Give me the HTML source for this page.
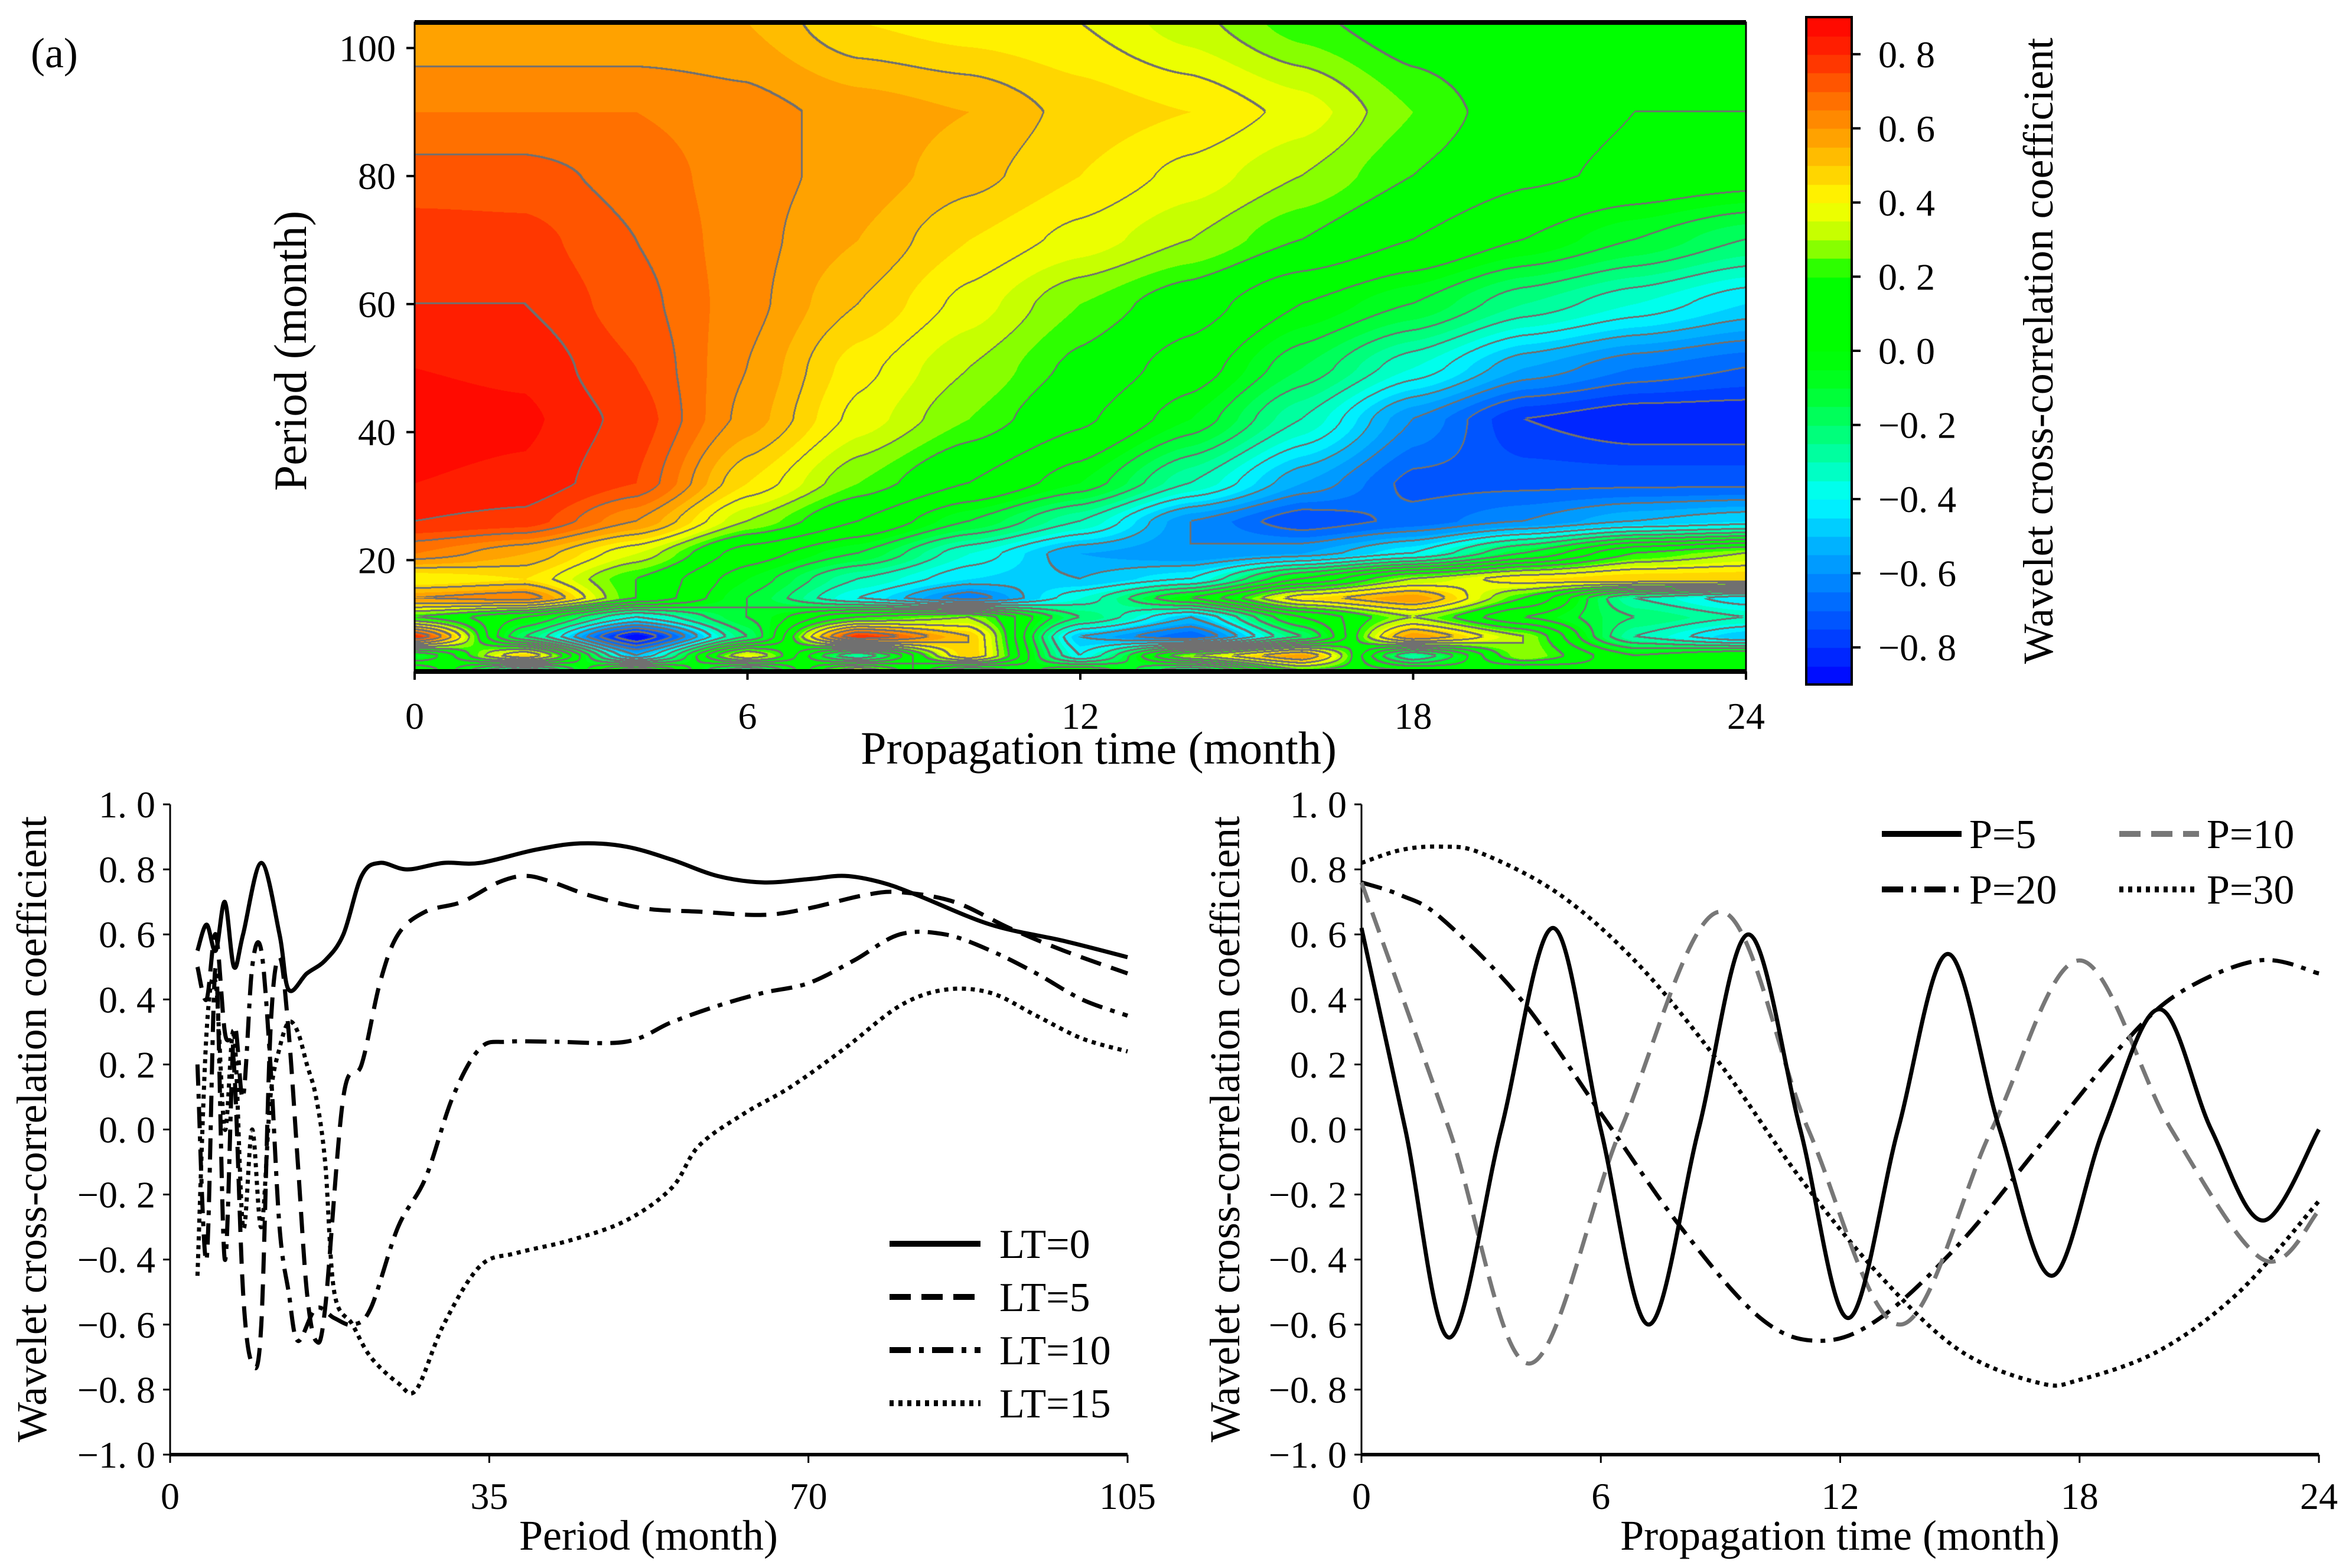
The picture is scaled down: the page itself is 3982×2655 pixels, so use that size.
<!DOCTYPE html>
<html><head><meta charset="utf-8"><style>
html,body{margin:0;padding:0;background:#fff;}
#root{position:relative;width:3982px;height:2655px;overflow:hidden;background:#fff;font-family:"Liberation Serif","Noto Serif CJK SC",serif;}
canvas{position:absolute;}
svg{position:absolute;left:0;top:0;}
</style></head><body>
<div id="root">
<canvas id="heat" width="2254" height="1099" style="left:702px;top:38px;"></canvas>
<canvas id="cbar" width="77" height="1130" style="left:3058px;top:29px;"></canvas>
<svg id="svg" width="3982" height="2655"></svg>
</div>
<script>
// ---------- contour data ----------
const times = [0,2,4,6,8,10,12,14,16,18,20,22,24];
const periods = [104,90,80,70,60,50,42,32,26,21,17,14,11,8,5,2.6];
const field = [
[.55,.55,.55,.55,.45,.42,.40,.32,.22,.15,.12,.10,.10],
[.65,.65,.65,.62,.58,.55,.48,.45,.38,.25,.15,.10,.10],
[.72,.72,.68,.62,.58,.52,.45,.38,.30,.20,.12,.08,.05],
[.78,.77,.70,.62,.55,.45,.38,.30,.20,.10,.00,-.10,-.20],
[.80,.80,.72,.62,.50,.38,.25,.15,.00,-.10,-.25,-.35,-.45],
[.85,.84,.75,.60,.42,.30,.18,.05,-.15,-.35,-.55,-.65,-.70],
[.87,.86,.78,.58,.38,.25,.12,-.05,-.30,-.60,-.80,-.85,-.85],
[.85,.84,.75,.45,.25,.10,-.05,-.30,-.55,-.72,-.72,-.72,-.72],
[.80,.78,.60,.30,.10,-.10,-.30,-.60,-.75,-.68,-.60,-.50,-.45],
[.65,.55,.35,.05,-.10,-.35,-.55,-.60,-.55,-.40,-.10,.20,.30],
[.40,.45,.20,-.05,-.30,-.45,-.50,-.40,.00,.30,.45,.50,.50],
[.60,.65,.20,-.10,-.40,-.65,-.35,.00,.45,.60,.20,-.30,-.45],
[.20,.00,-.40,-.10,.20,.30,-.20,-.50,.00,.30,.00,-.20,-.30],
[.80,-.20,-.90,-.20,.80,.50,-.50,-.70,-.20,.60,.30,-.30,-.50],
[-.10,.50,-.50,.40,-.30,.50,-.40,.30,.60,-.30,.30,.00,.10],
[.20,-.40,.30,-.30,.40,-.20,.10,-.30,.20,.10,.00,.10,.05]
];
const cbTicks = [0.8,0.6,0.4,0.2,0.0,-0.2,-0.4,-0.6,-0.8];
const xTicksTop = [0,6,12,18,24];
const yTicksTop = [20,40,60,80,100];

// ---------- line data (left) ----------
const ltNames = ["LT=0","LT=5","LT=10","LT=15"];
const lt0x=[3,4,5,6,7,8,10,12,13,15,17,19,21,23,26,30,34,40,45,50,55,60,65,70,74,78,82,90,98,105];
const lt0y=[0.55,0.63,0.55,0.7,0.5,0.6,0.82,0.6,0.43,0.48,0.52,0.6,0.78,0.82,0.8,0.82,0.82,0.86,0.88,0.87,0.83,0.78,0.76,0.77,0.78,0.76,0.72,0.63,0.58,0.53];
const lt5x=[3,4,5,6,7,8,9,10,11,12,13,14,15,16,17,19,21,23,25,28,32,36,39,42,46,52,58,65,70,76,80,86,92,98,105];
const lt5y=[0.5,0.4,0.6,0.3,0.2,-0.5,-0.72,-0.6,0.3,0.53,0.3,-0.1,-0.5,-0.65,-0.55,0.1,0.2,0.45,0.6,0.67,0.7,0.76,0.78,0.76,0.72,0.68,0.67,0.66,0.68,0.72,0.73,0.7,0.62,0.55,0.48];
const lt10x=[3,4,5,6,7,8,9,10,11,12,13,14,16,18,20,22,25,28,31,34,37,42,50,55,60,65,70,75,80,85,90,95,100,105];
const lt10y=[0.2,-0.4,0.5,-0.4,0.3,0.1,0.5,0.55,0.2,-0.3,-0.5,-0.65,-0.55,-0.58,-0.6,-0.55,-0.3,-0.15,0.1,0.25,0.27,0.27,0.27,0.33,0.38,0.42,0.45,0.52,0.6,0.6,0.55,0.48,0.4,0.35];
const lt15x=[3,4,5,6,7,8,9,10,11,12,13,14,15,16,17,18,20,22,25,27,30,34,38,44,50,55,58,63,68,74,80,85,90,95,100,105];
const lt15y=[-0.45,0.3,0.45,0.0,0.3,-0.3,0.0,-0.3,0.1,0.25,0.33,0.3,0.2,0.1,-0.1,-0.5,-0.6,-0.7,-0.78,-0.8,-0.6,-0.42,-0.38,-0.34,-0.28,-0.18,-0.05,0.05,0.13,0.25,0.38,0.43,0.42,0.35,0.28,0.24];
const xTicksL=[0,35,70,105];
const yTicksB=[-1.0,-0.8,-0.6,-0.4,-0.2,0.0,0.2,0.4,0.6,0.8,1.0];

// ---------- line data (right) ----------
const pNames=["P=5","P=10","P=20","P=30"];
const p5x=[0,1.1,2.2,3.5,4.8,6,7.2,8.45,9.7,11,12.2,13.45,14.7,16,17.3,18.6,20,21.3,22.6,24];
const p5y=[0.62,0,-0.64,0,0.62,0,-0.6,0,0.6,0,-0.58,0,0.54,0,-0.45,0,0.37,0,-0.28,0];
const p10x=[0,2.2,4.2,6.5,9,11.2,13.5,15.8,18,20.3,22.6,24];
const p10y=[0.76,0,-0.72,0,0.67,0,-0.6,0,0.52,0,-0.4,-0.25];
const p20x=[0,1,2,4,6,8,10,11.5,13,15,17,19,20.5,22.5,24];
const p20y=[0.76,0.72,0.65,0.4,0.05,-0.3,-0.58,-0.65,-0.58,-0.35,-0.05,0.25,0.42,0.52,0.48];
const p30x=[0,1,2,3,5,7,9,11,13,15,17,18,20,22,24];
const p30y=[0.82,0.86,0.87,0.85,0.72,0.5,0.2,-0.15,-0.45,-0.68,-0.78,-0.77,-0.68,-0.5,-0.22];
const xTicksR=[0,6,12,18,24];

// ---------- colormap ----------
const cstops=[[-0.9,[0,0,255]],[-0.8,[0,50,255]],[-0.65,[0,120,255]],[-0.5,[0,190,255]],[-0.4,[0,255,255]],[-0.25,[0,255,140]],[-0.1,[0,255,40]],[0.0,[0,255,0]],[0.2,[0,255,0]],[0.3,[180,255,0]],[0.4,[255,255,0]],[0.5,[255,200,0]],[0.6,[255,150,0]],[0.7,[255,100,0]],[0.8,[255,40,0]],[0.9,[255,0,0]]];
function cmap(v){
  if(v<=cstops[0][0]) return cstops[0][1];
  for(let i=1;i<cstops.length;i++){ if(v<=cstops[i][0]){const a=cstops[i-1],b=cstops[i];const f=(v-a[0])/(b[0]-a[0]);return [0,1,2].map(k=>Math.round(a[1][k]+(b[1][k]-a[1][k])*f));}}
  return cstops[cstops.length-1][1];
}
function lvlColor(l){return cmap(-0.9+(l+0.5)*0.05);}

// ---------- heat map ----------
(function(){
  const cv=document.getElementById('heat');const W=cv.width,H=cv.height;const ctx=cv.getContext('2d');
  const img=ctx.createImageData(W,H);const d=img.data;
  const tMin=0,tMax=24,pTop=104,pBot=2.6;
  const lv=new Int16Array(W*H), cl=new Int16Array(W*H);
  const colIdx=[],colF=[];
  for(let x=0;x<W;x++){const t=tMin+(x+0.5)/W*(tMax-tMin);let i=Math.min(times.length-2,Math.floor(t/2));colIdx.push(i);let f=(t-times[i])/(times[i+1]-times[i]);f=f*f*(3-2*f)*0.5+f*0.5;colF.push(f);}
  for(let y=0;y<H;y++){
    const p=pTop-(y+0.5)/H*(pTop-pBot);
    let j=0;while(j<periods.length-2 && p<periods[j+1]) j++;
    let g=(periods[j]-p)/(periods[j]-periods[j+1]);g=g*g*(3-2*g)*0.5+g*0.5;
    const r0=field[j],r1=field[j+1];
    for(let x=0;x<W;x++){
      const i=colIdx[x],f=colF[x];
      const a=r0[i]+(r0[i+1]-r0[i])*f,b=r1[i]+(r1[i+1]-r1[i])*f;
      const v=a+(b-a)*g;
      let l=Math.floor((v+0.9)/0.05);l=Math.max(0,Math.min(35,l));
      lv[y*W+x]=l;cl[y*W+x]=Math.floor((v+0.9)/0.1);
    }
  }
  for(let y=0;y<H;y++)for(let x=0;x<W;x++){
    const k=y*W+x;let c=lvlColor(lv[k]);
    const c0=cl[k];
    if((x+3<W&&cl[k+3]!==c0)||(y+3<H&&cl[k+3*W]!==c0)) c=[112,112,112];
    d[k*4]=c[0];d[k*4+1]=c[1];d[k*4+2]=c[2];d[k*4+3]=255;
  }
  ctx.putImageData(img,0,0);
  const cb=document.getElementById('cbar');const cx=cb.getContext('2d');
  for(let l=0;l<36;l++){const c=lvlColor(l);cx.fillStyle=`rgb(${c[0]},${c[1]},${c[2]})`;const y0=cb.height-(l+1)*cb.height/36;cx.fillRect(0,Math.floor(y0),cb.width,Math.ceil(cb.height/36)+1);}
})();

// ---------- SVG ----------
const NS="http://www.w3.org/2000/svg";const svg=document.getElementById('svg');
function el(tag,attrs,parent){const e=document.createElementNS(NS,tag);for(const k in attrs)e.setAttribute(k,attrs[k]);(parent||svg).appendChild(e);return e;}
function txt(s,x,y,size,anchor,name,rot){const e=el('text',{x:x,y:y,'font-size':size,'text-anchor':anchor||'middle','font-family':'"Liberation Serif","Noto Serif CJK SC",serif',fill:'#000'});if(rot)e.setAttribute('transform',`rotate(-90 ${x} ${y})`);e.textContent=s;


return e;}
function fmt(v){return v.toFixed(1).replace('-','\u2212');}

// top plot frame & ticks
const TX0=702,TX1=2956,TY0=38,TY1=1137;
const tx=t=>TX0+t/24*(TX1-TX0);
const ty=p=>TY1-(p-2.6)/(104-2.6)*(TY1-TY0);
const fr=el('rect',{x:TX0,y:TY0,width:TX1-TX0,height:TY1-TY0,fill:'none',stroke:'#000','stroke-width':3});

el('line',{x1:TX0,y1:TY0,x2:TX1,y2:TY0,stroke:'#000','stroke-width':8});
el('line',{x1:TX0,y1:TY1,x2:TX1,y2:TY1,stroke:'#000','stroke-width':8});
xTicksTop.forEach(t=>{el('line',{x1:tx(t),y1:TY1,x2:tx(t),y2:TY1+14,stroke:'#000','stroke-width':4});txt(String(t),tx(t),1234,64,'middle','x-tick-top');});
yTicksTop.forEach(p=>{el('line',{x1:TX0-14,y1:ty(p),x2:TX0,y2:ty(p),stroke:'#000','stroke-width':4});txt(String(p),670,ty(p)+22,64,'end','y-tick-top');});
txt('Propagation time (month)',1860,1293,78,'middle','x-axis-title-top');
txt('Period (month)',518,594,78,'middle','y-axis-title-top',true);
txt('(a)',52,114,72,'start','panel-label-a');
// colorbar
const CB0=29,CB1=1159;const cby=v=>CB1-(v+0.9)/1.8*(CB1-CB0);
el('rect',{x:3058,y:29,width:77,height:1130,fill:'none',stroke:'#000','stroke-width':4});
cbTicks.forEach(v=>{el('line',{x1:3135,y1:cby(v),x2:3150,y2:cby(v),stroke:'#000','stroke-width':4});txt(fmt(v).replace('.','. '),3180,cby(v)+22,64,'start','colorbar-tick');});
txt('Wavelet cross-correlation coefficient',3475,594,72,'middle','colorbar-title',true);

// line panels
function panel(X0,X1,xmax,xt,yAxisLabelX,ytickX,titleX,title,pname){
  const Y0=1362,Y1=2463;
  const sx=v=>X0+v/xmax*(X1-X0), sy=v=>Y1-(v+1)/2*(Y1-Y0);
  el('line',{x1:X0,y1:Y0,x2:X0,y2:Y1,stroke:'#000','stroke-width':3});
  el('line',{x1:X0,y1:Y1,x2:X1,y2:Y1,stroke:'#000','stroke-width':6});
  xt.forEach(t=>{el('line',{x1:sx(t),y1:Y1,x2:sx(t),y2:Y1+14,stroke:'#000','stroke-width':3});txt(String(t),sx(t),2555,64,'middle',pname+'-x-tick');});
  yTicksB.forEach(v=>{el('line',{x1:X0-12,y1:sy(v),x2:X0,y2:sy(v),stroke:'#000','stroke-width':3});txt(fmt(v).replace('.','. '),ytickX,sy(v)+22,64,'end',pname+'-y-tick');});
  txt(title,titleX,2624,72,'middle',pname+'-x-axis-title');
  txt('Wavelet cross-correlation coefficient',yAxisLabelX,1912,72,'middle',pname+'-y-axis-title',true);
  return {sx,sy};
}
function curve(xs,ys,s,style,name){
  const P=xs.map((x,i)=>[s.sx(x),s.sy(ys[i])]);
  let dd=`M${P[0][0]},${P[0][1]}`;
  for(let i=0;i<P.length-1;i++){const p0=P[Math.max(0,i-1)],p1=P[i],p2=P[i+1],p3=P[Math.min(P.length-1,i+2)];
    dd+=` C${p1[0]+(p2[0]-p0[0])/6},${p1[1]+(p2[1]-p0[1])/6} ${p2[0]-(p3[0]-p1[0])/6},${p2[1]-(p3[1]-p1[1])/6} ${p2[0]},${p2[1]}`;}
  const e=el('path',Object.assign({d:dd,fill:'none'},style));
  
  
}
const stSolid={stroke:'#000','stroke-width':7};
const stDash={stroke:'#000','stroke-width':7,'stroke-dasharray':'36,18'};
const stDashDot={stroke:'#000','stroke-width':7,'stroke-dasharray':'36,14,8,14'};
const stDot={stroke:'#000','stroke-width':7,'stroke-dasharray':'7,8'};
const stGray={stroke:'#777','stroke-width':7,'stroke-dasharray':'36,18'};

const L=panel(288,1909,105,xTicksL,78,263,1098,'Period (month)','left-panel');
curve(lt0x,lt0y,L,stSolid,'line-lt0');
curve(lt5x,lt5y,L,stDash,'line-lt5');
curve(lt10x,lt10y,L,stDashDot,'line-lt10');
curve(lt15x,lt15y,L,stDot,'line-lt15');
[stSolid,stDash,stDashDot,stDot].forEach((st,i)=>{const y=2106+i*90;
  const ln=el('line',Object.assign({x1:1506,y1:y,x2:1660,y2:y},st,{'stroke-width':10}));
  
  txt(ltNames[i],1692,y+24,70,'start','legend-entry');});

const R=panel(2305,3926,24,xTicksR,2098,2280,3115,'Propagation time (month)','right-panel');
curve(p20x,p20y,R,stDashDot,'line-p20');
curve(p30x,p30y,R,stDot,'line-p30');
curve(p10x,p10y,R,stGray,'line-p10');
curve(p5x,p5y,R,stSolid,'line-p5');
[[stSolid,3186,1412],[stGray,3588,1412],[stDashDot,3186,1506],[stDot,3588,1506]].forEach((a,i)=>{
  const ln=el('line',Object.assign({x1:a[1],y1:a[2],x2:a[1]+135,y2:a[2]},a[0],{'stroke-width':10}));
  
  txt(pNames[i],a[1]+148,a[2]+24,70,'start','legend-entry');});
</script>
</body></html>
